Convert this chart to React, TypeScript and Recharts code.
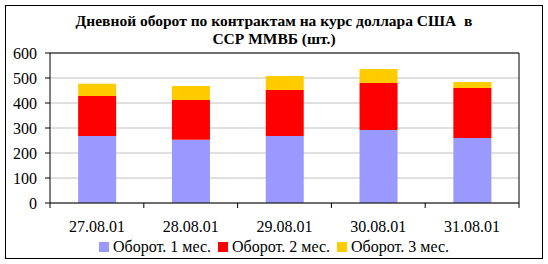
import React from "react";
import {
  BarChart,
  Bar,
  XAxis,
  YAxis,
  CartesianGrid,
  ReferenceLine,
} from "recharts";

const dates = ["27.08.01", "28.08.01", "29.08.01", "30.08.01", "31.08.01"];
const month1 = [268, 253, 268, 292, 260];
const month2 = [160, 159, 184, 188, 200];
const month3 = [49, 56, 56, 56, 24];
const yTicks = [0, 100, 200, 300, 400, 500, 600];

const series = [
  { key: "m1", name: "Оборот. 1 мес.", color: "#9999ff", values: month1 },
  { key: "m2", name: "Оборот. 2 мес.", color: "#ff0000", values: month2 },
  { key: "m3", name: "Оборот. 3 мес.", color: "#ffcc00", values: month3 },
];

const data = dates.map((d, i) => ({
  date: d,
  m1: month1[i],
  m2: month2[i],
  m3: month3[i],
}));

const FONT = "Liberation Serif";

// ticks sit between categories like in Excel, labels in the middle
function DateTick(props: any) {
  const { x, y, payload, index, width, visibleTicksCount } = props;
  const half = (width || 469) / (visibleTicksCount || dates.length) / 2;
  return (
    <g>
      <line x1={x - half} x2={x - half} y1={y} y2={y + 5} stroke="#000" />
      {index === dates.length - 1 && (
        <line x1={x + half} x2={x + half} y1={y} y2={y + 5} stroke="#000" />
      )}
      <text
        x={x}
        y={y + 29}
        textAnchor="middle"
        fontFamily={FONT}
        fontSize={16}
        fill="#000"
      >
        {payload.value}
      </text>
    </g>
  );
}

export default function App() {
  return (
    <div
      style={{
        position: "absolute",
        left: 0,
        top: 0,
        width: 548,
        height: 264,
        background: "#fff",
        fontFamily: FONT,
      }}
    >
      <div
        style={{
          position: "absolute",
          left: 5,
          top: 5,
          width: 538,
          height: 254,
          border: "1px solid #000",
          boxSizing: "border-box",
        }}
      />
      <div
        style={{
          position: "absolute",
          left: 24,
          width: 500,
          top: 12,
          textAlign: "center",
          fontWeight: "bold",
          fontSize: 15.5,
          lineHeight: "17.5px",
          color: "#000",
          whiteSpace: "pre",
        }}
      >
        {"Дневной оборот по контрактам на курс доллара США  в"}
        <br />
        {"ССР ММВБ (шт.)"}
      </div>
      <BarChart
        width={548}
        height={264}
        data={data}
        barCategoryGap="30%"
        margin={{ top: 53, right: 0, left: 0, bottom: 31 }}
        style={{ position: "absolute", left: 0, top: 0 }}
      >
        <CartesianGrid vertical={false} stroke="#c0c0c0" />
        <XAxis
          dataKey="date"
          height={30}
          tickSize={0}
          tickMargin={0}
          tickLine={false}
          axisLine={{ stroke: "#000" }}
          tick={<DateTick />}
          interval={0}
        />
        <YAxis
          domain={[0, 600]}
          ticks={yTicks}
          width={50}
          tickSize={5}
          tickMargin={8}
          axisLine={{ stroke: "#000" }}
          tickLine={{ stroke: "#000" }}
          tick={{ fontSize: 16, fontFamily: FONT, fill: "#000" }}
        />
        <YAxis
          yAxisId="right"
          orientation="right"
          width={29}
          tick={false}
          tickLine={false}
          axisLine={{ stroke: "#000" }}
        />
        <ReferenceLine y={600} stroke="#000" />
        {series.map((s) => (
          <Bar
            key={s.key}
            dataKey={s.key}
            name={s.name}
            stackId="a"
            fill={s.color}
            isAnimationActive={false}
          />
        ))}
      </BarChart>
      <div
        style={{
          position: "absolute",
          left: 24,
          width: 500,
          top: 238,
          display: "flex",
          justifyContent: "center",
          fontSize: 16,
          lineHeight: "18px",
          color: "#000",
        }}
      >
        {series.map((s, i) => (
          <span
            key={s.key}
            style={{
              display: "flex",
              alignItems: "center",
              marginRight: i < series.length - 1 ? 7 : 0,
            }}
          >
            <span
              style={{
                display: "inline-block",
                width: 10,
                height: 10,
                background: s.color,
                marginRight: 4,
              }}
            />
            {s.name}
          </span>
        ))}
      </div>
    </div>
  );
}
